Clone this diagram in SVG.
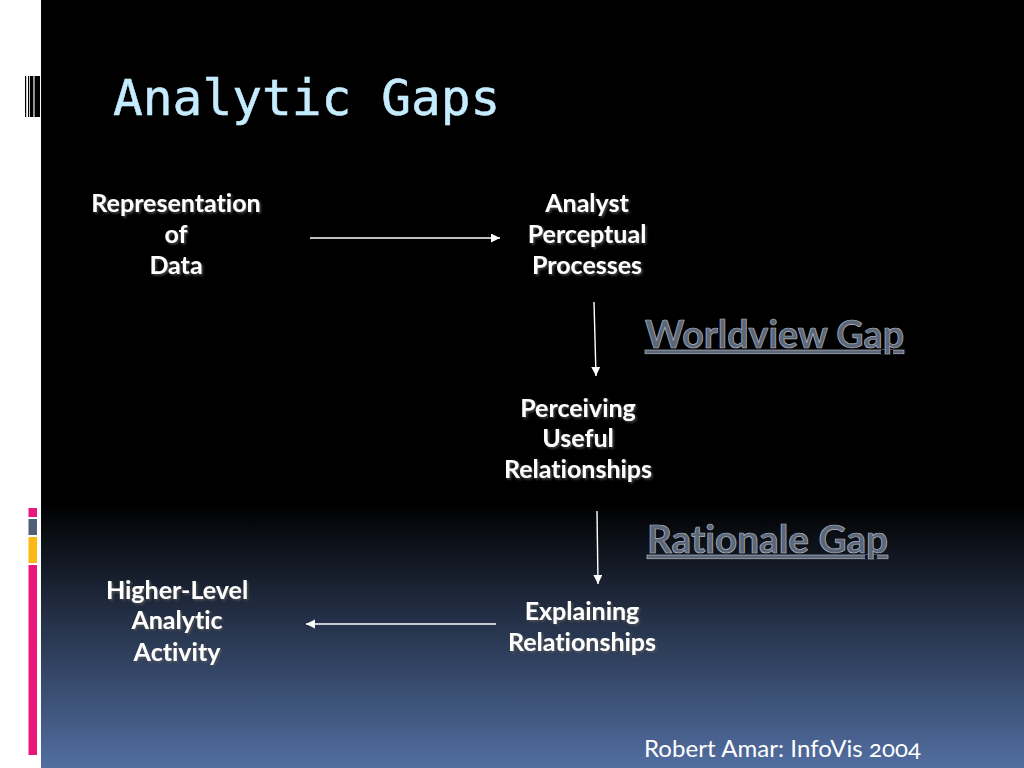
<svg xmlns="http://www.w3.org/2000/svg" width="1024" height="768" viewBox="0 0 1024 768">
<style>
text{font-variant-ligatures:none}
.n{font-family:"Lato","Open Sans","Liberation Sans",sans-serif;font-weight:700;font-size:25px;fill:#fff;text-anchor:middle;filter:url(#sh)}
.g{font-family:"Lato","Open Sans","Liberation Sans",sans-serif;font-weight:700;font-size:37.500px;fill:#5b6679;stroke:#b4b9c2;stroke-width:.7px;text-decoration:underline}
.c{stroke:#fff;stroke-width:1.4;fill:none;marker-end:url(#a)}
</style>
<defs>
<linearGradient id="bg" x1="0" y1="0" x2="0" y2="1"><stop offset="0" stop-color="#000"/><stop offset=".655" stop-color="#000"/><stop offset="1" stop-color="#526ea1"/></linearGradient>
<marker id="a" markerUnits="userSpaceOnUse" markerWidth="10" markerHeight="10" refX="9" refY="4.5" orient="auto"><path d="M0 0L9 4.5L0 9z" fill="#fff"/></marker>
<filter id="sh" x="-10%" y="-10%" width="120%" height="130%"><feDropShadow dx="1.5" dy="1.5" stdDeviation=".8" flood-color="#555" flood-opacity=".9"/></filter>
</defs>
<rect width="1024" height="768" fill="#fff"/>
<rect x="41" width="983" height="768" fill="url(#bg)"/>
<g id="decor">
<rect x="25" y="76" width="1.2" height="41" fill="#000"/><rect x="28" y="76" width="1.2" height="41" fill="#000"/><rect x="30" y="76" width="3" height="41" fill="#000"/><rect x="33" y="76" width="1.8" height="41" fill="#999"/><rect x="34.800" y="76" width="5.200" height="41" fill="#000"/>
<rect x="28.500" y="508" width="8.500" height="9" fill="#e9177c"/><rect x="28.500" y="519" width="8.500" height="16" fill="#4f5f78"/><rect x="28.500" y="537" width="8.500" height="26" fill="#fdb813"/><rect x="28.500" y="565" width="8.500" height="190" fill="#e9177c"/>
</g>
<text id="title" x="113" y="115" font-family="DejaVu Sans Mono,monospace" font-size="49.500" fill="#c5ebff" stroke="#c5ebff" stroke-width=".5">Analytic Gaps</text>
<g id="connectors">
<line class="c" x1="310" y1="238" x2="500" y2="238"/>
<line class="c" x1="594" y1="302" x2="596" y2="376"/>
<line class="c" x1="597" y1="511" x2="598" y2="584"/>
<line class="c" x1="496" y1="624" x2="306" y2="624"/>
</g>
<g id="n1"><text class="n" x="176" y="212">Representation</text><text class="n" x="176" y="243">of</text><text class="n" x="176" y="274">Data</text></g>
<g id="n2"><text class="n" x="587" y="212">Analyst</text><text class="n" x="587" y="243">Perceptual</text><text class="n" x="587" y="274">Processes</text></g>
<g id="n3"><text class="n" x="578" y="417">Perceiving</text><text class="n" x="578" y="447">Useful</text><text class="n" x="578" y="478">Relationships</text></g>
<g id="n4"><text class="n" x="582" y="620">Explaining</text><text class="n" x="582" y="651">Relationships</text></g>
<g id="n5"><text class="n" x="177" y="599">Higher-Level</text><text class="n" x="177" y="629">Analytic</text><text class="n" x="177" y="661">Activity</text></g>
<g id="gap1"><text class="g" x="645" y="348" textLength="259" lengthAdjust="spacingAndGlyphs">Worldview Gap</text></g>
<g id="gap2"><text class="g" x="647" y="553" textLength="241" lengthAdjust="spacingAndGlyphs">Rationale Gap</text></g>
<text id="credit" x="644" y="757" font-family="Lato,Open Sans,sans-serif" font-size="24" fill="#fff" style="font-variant-numeric:oldstyle-nums" textLength="277">Robert Amar: InfoVis 2004</text>
</svg>
